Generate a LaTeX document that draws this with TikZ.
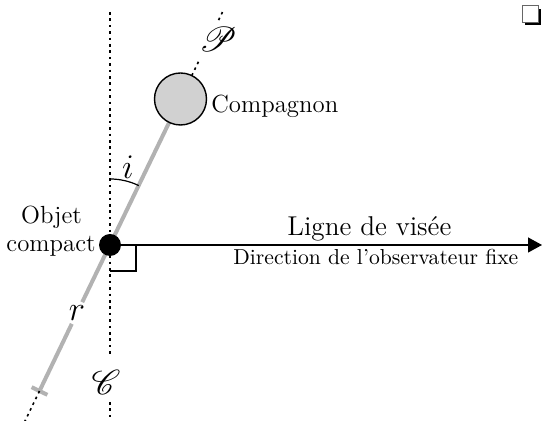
\documentclass[tikz,border=0pt]{standalone}
\usepackage{mathrsfs}
\usetikzlibrary{arrows.meta,calc}
\begin{document}
\begin{tikzpicture}[x=0.5pt,y=-0.5pt,
  dotline/.style={line width=0.8pt, dash pattern=on 1.3pt off 1.9pt},
  grayline/.style={line width=2pt, draw=black!30},
  thinline/.style={line width=0.6pt},
  txt/.style={inner sep=0pt, font=\fontsize{12.4}{14}\selectfont},
  mathlbl/.style={inner sep=1.5pt, font=\fontsize{16.5}{16.5}\selectfont},
  scrlbl/.style={inner sep=0pt, font=\fontsize{19}{19}\selectfont},
  compactobj/.style={circle, fill=black, minimum size=11pt, inner sep=0pt},
  companion/.style={circle, fill=black!18, draw=black, line width=0.7pt, minimum size=26pt, inner sep=0pt},
]
\useasboundingbox (0,0) rectangle (542,421);
\coordinate (O) at (110,245);
\coordinate (Cp) at (180.5,99);
\coordinate (T) at ($(O)!-1!(Cp)$);
\coordinate (tip) at (542,245);
% vertical dotted line
\coordinate (vtop) at (110,12);
\coordinate (vmid1) at (110,354);
\coordinate (vmid2) at (110,402);
\coordinate (vbot) at (110,426);
\draw[dotline] (vtop) -- (vmid1);
\draw[dotline] (vmid2) -- (vbot);
\node[scrlbl] (C) at (106,382) {$\mathscr{C}$};
% labels on gray line
\node[mathlbl] (r) at (77,313) {$r$};
\draw[grayline] (T) -- (r);
\draw[grayline] (r) -- (Cp);
\draw[grayline] ($(T)!0.054!90:(O)$) -- ($(T)!0.054!-90:(O)$);
\draw[dotline] (T) -- ($(T)!-0.25!(O)$);
% dotted continuation above companion
\node[scrlbl] (P) at (218,39) {$\mathscr{P}$};
\draw[dotline] ($(O)!1.16!(Cp)$) -- ($(O)!1.27!(Cp)$);
\draw[dotline] ($(O)!1.54!(Cp)$) -- ($(O)!1.61!(Cp)$);
% angle i
\draw[thinline] (110,179) arc[start angle=-90, end angle=-64.2, radius=66];
\node[mathlbl] (i) at (128,167) {$i$};
% right angle
\draw[thinline] (136,245) -- (136,271) -- (110,271);
% objects
\node[companion] (cmp) at (Cp) {};
\node[compactobj] (obj) at (O) {};
\draw[thinline, -{Triangle[length=7pt,width=7.5pt]}] (obj.east) -- (tip);
% texts
\node[txt, anchor=base west] (comptxt) at (211,113) {Compagnon};
\node[txt, anchor=base] (obj1) at (51.5,224) {Objet};
\node[txt, anchor=base] (obj2) at (51,252) {compact};
\node[inner sep=0pt, anchor=base west, font=\fontsize{13.6}{15}\selectfont] (ligne) at (287,236) {Ligne de visée};
\node[inner sep=0pt, anchor=base west, font=\fontsize{10.82}{12}\selectfont] (dir) at (233,265) {Direction de l'observateur fixe};
% small shadowed box
\fill[black] (525,9) rectangle (541,25);
\draw[fill=white, draw=black!60, line width=0.4pt] (522,5) rectangle (538,22);
\end{tikzpicture}
\end{document}
